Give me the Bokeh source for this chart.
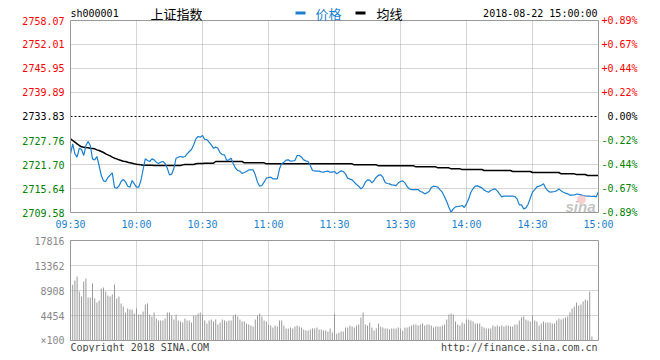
from bokeh.plotting import figure
from bokeh.models import Range1d, Range1d as R, ColumnDataSource
from bokeh.core.properties import value
from bokeh.embed import file_html
from bokeh.resources import INLINE

# ---------------- data ----------------
time_ticks = [0, 30, 60, 90, 120, 150, 180, 210, 240]
time_labels = ["09:30", "10:00", "10:30", "11:00", "11:30", "13:30", "14:00", "14:30", "15:00"]

price_ticks = [2758.07, 2752.01, 2745.95, 2739.89, 2733.83, 2727.76, 2721.70, 2715.64, 2709.58]
price_labels = ["2758.07", "2752.01", "2745.95", "2739.89", "2733.83", "2727.76", "2721.70", "2715.64", "2709.58"]
pct_labels = ["+0.89%", "+0.67%", "+0.44%", "+0.22%", "0.00%", "-0.22%", "-0.44%", "-0.67%", "-0.89%"]
prev_close = 2733.83

vol_ticks = [17816, 13362, 8908, 4454, 0]
vol_labels = ["17816", "13362", "8908", "4454", "\u00d7100"]

price = [
    2724.39, 2726.92, 2724.39, 2723.55, 2725.82, 2725.49, 2723.97, 2726.50, 2727.51, 2726.50,
    2723.13, 2722.88, 2723.72, 2721.45, 2718.92, 2717.57, 2717.40, 2718.42, 2719.00, 2719.59,
    2715.89, 2715.72, 2716.23, 2717.40, 2717.91, 2717.32, 2716.23, 2715.97, 2717.66, 2716.82,
    2715.97, 2715.97, 2717.66, 2720.44, 2723.13, 2722.71, 2722.46, 2723.13, 2722.88, 2722.29,
    2721.95, 2722.29, 2722.46, 2721.95, 2720.77, 2719.09, 2719.26, 2720.77, 2723.30, 2723.55,
    2723.72, 2723.55, 2723.72, 2724.39, 2724.98, 2725.49, 2726.67, 2728.18, 2728.77, 2728.60,
    2729.02, 2728.01, 2728.01, 2727.34, 2726.67, 2725.82, 2726.08, 2725.82, 2724.65, 2724.22,
    2724.14, 2722.71, 2722.88, 2723.30, 2721.87, 2720.77, 2720.18, 2720.02, 2719.42, 2719.68,
    2719.93, 2720.35, 2720.35, 2720.35, 2719.09, 2717.24, 2716.23, 2716.39, 2717.24, 2718.25,
    2718.42, 2718.50, 2718.08, 2718.08, 2718.08, 2720.60, 2721.87, 2722.29, 2722.79, 2722.88,
    2722.54, 2722.62, 2722.71, 2723.97, 2723.97, 2723.55, 2722.88, 2722.62, 2722.46, 2721.45,
    2720.18, 2720.10, 2720.02, 2720.02, 2719.85, 2719.76, 2719.93, 2720.02, 2719.76, 2719.76,
    2719.93, 2719.34, 2719.76, 2720.10, 2719.93, 2719.34, 2718.25, 2718.00, 2717.83, 2717.24,
    2716.65, 2716.23, 2715.55, 2716.06, 2717.24, 2717.83, 2717.74, 2717.07, 2717.66, 2718.50,
    2719.00, 2719.09, 2718.50, 2717.15, 2716.90, 2716.82, 2716.56, 2716.48, 2716.39, 2717.07,
    2717.40, 2717.57, 2717.07, 2716.14, 2715.55, 2715.38, 2715.38, 2715.38, 2715.38, 2714.88,
    2714.71, 2714.29, 2714.54, 2714.88, 2715.89, 2716.23, 2716.14, 2715.97, 2715.30, 2714.71,
    2713.53, 2712.35, 2710.92, 2709.66, 2710.50, 2711.00, 2711.09, 2711.17, 2711.34, 2710.84,
    2711.76, 2713.03, 2714.71, 2715.64, 2716.23, 2716.31, 2716.06, 2715.80, 2715.22, 2714.96,
    2714.71, 2715.13, 2715.38, 2715.55, 2715.05, 2714.29, 2713.53, 2713.70, 2713.70, 2713.70,
    2713.70, 2713.70, 2713.62, 2713.03, 2711.51, 2711.51, 2710.50, 2710.75, 2711.68, 2713.20,
    2714.71, 2715.38, 2716.06, 2716.23, 2716.48, 2716.82, 2715.72, 2715.05, 2714.71, 2714.80,
    2714.88, 2715.05, 2715.55, 2715.05, 2714.71, 2714.46, 2714.29, 2713.95, 2713.95, 2714.04,
    2714.20, 2714.20, 2714.04, 2713.87, 2713.78, 2713.70, 2713.70, 2713.62, 2713.70, 2713.53,
    2714.88,
]

avg_price = [
    2728.18, 2727.76, 2727.34, 2726.92, 2726.50, 2726.16, 2726.08, 2725.99, 2725.91, 2725.82,
    2725.74, 2725.66, 2725.40, 2725.24, 2724.98, 2724.73, 2724.39, 2724.14, 2723.89, 2723.55,
    2723.30, 2723.13, 2722.88, 2722.71, 2722.54, 2722.46, 2722.29, 2722.12, 2722.04, 2721.87,
    2721.78, 2721.70, 2721.61, 2721.53, 2721.53, 2721.53, 2721.53, 2721.53, 2721.45, 2721.45,
    2721.45, 2721.45, 2721.45, 2721.45, 2721.45, 2721.45, 2721.45, 2721.45, 2721.45, 2721.45,
    2721.45, 2721.61, 2721.70, 2721.70, 2721.70, 2721.70, 2721.70, 2721.87, 2721.95, 2721.95,
    2721.95, 2722.04, 2722.04, 2722.04, 2722.04, 2722.04, 2722.46, 2722.46, 2722.46, 2722.46,
    2722.46, 2722.46, 2722.46, 2722.46, 2722.46, 2722.46, 2722.46, 2722.46, 2722.46, 2722.12,
    2722.12, 2722.12, 2722.12, 2722.12, 2722.12, 2722.12, 2722.12, 2722.12, 2722.12, 2721.87,
    2721.87, 2721.87, 2721.87, 2721.87, 2721.87, 2721.87, 2721.87, 2721.87, 2721.87, 2721.87,
    2721.87, 2721.87, 2721.87, 2721.87, 2721.87, 2721.87, 2721.87, 2721.87, 2721.87, 2721.87,
    2721.87, 2721.87, 2721.87, 2721.87, 2721.87, 2721.87, 2721.87, 2721.87, 2721.87, 2721.87,
    2721.87, 2721.87, 2721.87, 2721.87, 2721.87, 2721.87, 2721.87, 2721.87, 2721.87, 2721.61,
    2721.61, 2721.61, 2721.61, 2721.61, 2721.61, 2721.61, 2721.61, 2721.61, 2721.61, 2721.61,
    2721.36, 2721.36, 2721.36, 2721.36, 2721.36, 2721.36, 2721.36, 2721.36, 2721.36, 2721.36,
    2721.36, 2721.36, 2721.36, 2721.36, 2721.36, 2721.36, 2721.36, 2721.11, 2721.11, 2721.11,
    2721.11, 2721.11, 2721.11, 2721.11, 2721.11, 2721.11, 2721.11, 2720.86, 2720.86, 2720.86,
    2720.86, 2720.86, 2720.86, 2720.60, 2720.60, 2720.60, 2720.60, 2720.60, 2720.44, 2720.44,
    2720.44, 2720.44, 2720.44, 2720.44, 2720.44, 2720.44, 2720.44, 2720.44, 2720.18, 2720.18,
    2720.18, 2720.18, 2720.18, 2720.18, 2720.18, 2720.18, 2720.18, 2720.18, 2720.18, 2720.18,
    2720.18, 2719.93, 2719.93, 2719.93, 2719.93, 2719.93, 2719.93, 2719.93, 2719.93, 2719.93,
    2719.68, 2719.68, 2719.68, 2719.68, 2719.68, 2719.68, 2719.68, 2719.68, 2719.68, 2719.68,
    2719.68, 2719.68, 2719.68, 2719.34, 2719.34, 2719.34, 2719.34, 2719.34, 2719.34, 2719.34,
    2719.17, 2719.17, 2719.17, 2719.17, 2719.17, 2718.92, 2718.92, 2718.92, 2718.92, 2718.92,
    2718.92,
]

volume = [
    17816, 9918, 10690, 11403, 8730, 7839, 10512, 11047, 7661, 7661,
    10156, 7483, 6770, 7127, 9265, 9443, 8730, 8018, 7839, 8196,
    9978, 7483, 7839, 6592, 6058, 4989, 5701, 5523, 5523, 4811,
    5701, 4632, 4632, 5167, 6414, 6592, 4632, 4276, 4989, 3920,
    3563, 3563, 3563, 3920, 4989, 4989, 4454, 3742, 4632, 3563,
    3385, 3207, 3920, 3563, 3563, 3207, 4454, 4454, 4811, 4989,
    4632, 3563, 3029, 3563, 3742, 3385, 3742, 2851, 3207, 3742,
    3563, 3385, 3563, 3563, 4454, 4632, 4276, 3742, 3385, 3385,
    3029, 2851, 2673, 2494, 3742, 4454, 4811, 4276, 3563, 3385,
    2851, 2673, 2316, 2673, 2494, 3563, 3563, 2673, 2138, 2138,
    2316, 2138, 2494, 2673, 2494, 2316, 1960, 1782, 1782, 1960,
    2138, 2138, 2316, 1960, 1960, 1782, 1782, 1604, 2138, 1425,
    4751, 1188, 1366, 1604, 1604, 2316, 2316, 2673, 2494, 2316,
    2673, 2851, 4098, 4989, 2851, 2673, 3207, 2316, 1782, 2138,
    3029, 2494, 2316, 2138, 2138, 1960, 2138, 2138, 2138, 2316,
    2138, 1782, 2316, 2316, 2494, 2673, 2851, 2851, 2673, 2851,
    3029, 2673, 2851, 2851, 2673, 2316, 2494, 2494, 2494, 2673,
    2851, 3742, 4632, 4811, 4632, 3385, 2851, 2673, 3207, 3029,
    3742, 3742, 3563, 3385, 3029, 3029, 3029, 2494, 2316, 2138,
    2138, 2138, 2673, 2494, 2673, 2494, 2673, 2494, 2673, 2673,
    2494, 2494, 2851, 2851, 3563, 4098, 4276, 3742, 3563, 3385,
    4454, 3563, 3385, 2673, 3029, 3385, 3207, 3207, 3207, 3029,
    3029, 3563, 3920, 3742, 3920, 4098, 4276, 4989, 5701, 6058,
    6770, 6236, 6414, 6949, 7305, 7127, 8730, 713,
]

# ---------------- styles / layout helpers ----------------
BLUE = "#1a7fcf"
RED = "#ff0000"
GREEN = "#008000"
GRID = "#aaaaaa"
FRAME = "#999999"
MONO = value("DejaVu Sans Mono")
CJK = value("Noto Sans CJK SC")
tick_colors = [RED, RED, RED, RED, "#000000", GREEN, GREEN, GREEN, GREEN]

W, H = 652, 352
YMIN, YMAX = price_ticks[-1], price_ticks[0]
VMAX = vol_ticks[0]
T0, T1 = time_ticks[0], time_ticks[-1]


def fx(px):  # canvas pixel -> minute axis (layout only)
    return (px - 70) / 2.2


def fy(py):  # canvas pixel -> price axis (layout only)
    return YMAX - (py - 20) * (YMAX - YMIN) / 192


def gy(py):  # canvas pixel -> volume axis (layout only)
    return (340 - py) * VMAX / 100


p = figure(width=W, height=H, x_range=Range1d(fx(0), fx(W)), y_range=Range1d(fy(H), fy(0)),
           x_axis_type=None, y_axis_type=None, title=None,
           min_border=0, min_border_left=0, min_border_right=0, min_border_top=0, min_border_bottom=0,
           output_backend="svg", toolbar_location=None)
p.extra_y_ranges = {"vol": Range1d(gy(H), gy(0))}
p.outline_line_color = None
p.background_fill_color = "white"
p.border_fill_color = "white"
p.grid.visible = False

inner_t = time_ticks[1:-1]
# ---- price panel grid ----
p.segment(x0=inner_t, x1=inner_t, y0=[YMIN] * len(inner_t), y1=[YMAX] * len(inner_t),
          line_color=GRID, line_dash="1 1", line_width=1)
hticks = [t for t in price_ticks[1:-1] if t != prev_close]
p.segment(x0=[T0] * len(hticks), x1=[T1] * len(hticks), y0=hticks, y1=hticks,
          line_color=GRID, line_dash="1 1", line_width=1)
p.segment(x0=[T0], x1=[T1], y0=[prev_close], y1=[prev_close],
          line_color="#000000", line_dash="2 2", line_width=1)

# ---- volume panel grid ----
p.segment(x0=inner_t, x1=inner_t, y0=[0] * len(inner_t), y1=[VMAX] * len(inner_t),
          line_color=GRID, line_dash="1 1", line_width=1, y_range_name="vol")
vt = vol_ticks[1:-1]
p.segment(x0=[T0] * len(vt), x1=[T1] * len(vt), y0=vt, y1=vt,
          line_color=GRID, line_dash="1 1", line_width=1, y_range_name="vol")

# ---- series ----
p.vbar(x=list(range(len(volume))), top=volume, bottom=0, width=0.45,
       fill_color="#999999", line_color=None, y_range_name="vol")
p.line(list(range(len(avg_price))), avg_price, line_color="#000000", line_width=1.5)
p.line(list(range(len(price))), price, line_color=BLUE, line_width=1.2)

# ---- panel frames ----
p.quad(left=[T0], right=[T1], bottom=[YMIN], top=[YMAX], fill_color=None,
       line_color=FRAME, line_width=1)
p.quad(left=[T0], right=[T1], bottom=[0], top=[VMAX], fill_color=None,
       line_color=FRAME, line_width=1, y_range_name="vol")

# ---- watermark ----
p.scatter(x=[fx(581)], y=[fy(199)], size=9, fill_color="#f2a0a0", fill_alpha=0.5, line_color=None)
p.text(x=[fx(580)], y=[fy(206)], text=["sina"], text_font=value("Liberation Sans"),
       text_font_size="15px", text_font_style="bold italic", text_color="#b8b8b8",
       text_alpha=0.85, text_align="center", text_baseline="middle")

# ---- axis labels ----
n = len(price_ticks)
p.text(x=[fx(64)] * n, y=price_ticks, text=price_labels, text_color=tick_colors,
       text_align="right", text_baseline="middle", text_font=MONO, text_font_size="10px")
p.text(x=[fx(637)] * n, y=price_ticks, text=pct_labels, text_color=tick_colors,
       text_align="right", text_baseline="middle", text_font=MONO, text_font_size="10px")
p.text(x=time_ticks, y=[fy(224)] * len(time_ticks), text=time_labels, text_color=BLUE,
       text_align="center", text_baseline="middle", text_font=MONO, text_font_size="10px")
p.text(x=[fx(64)] * len(vol_ticks), y=vol_ticks, text=vol_labels, text_color="#888888",
       text_align="right", text_baseline="middle", text_font=MONO, text_font_size="10px",
       y_range_name="vol")

# ---- header ----
p.text(x=[fx(70)], y=[fy(13)], text=["sh000001"], text_color="#000000",
       text_baseline="middle", text_font=MONO, text_font_size="10px")
p.text(x=[fx(150), fx(376)], y=[fy(12.5)] * 2, text=["上证指数", "均线"], text_color="#000000",
       text_baseline="middle", text_font=CJK, text_font_size="13px")
p.text(x=[fx(315)], y=[fy(12.5)], text=["价格"], text_color=BLUE,
       text_baseline="middle", text_font=CJK, text_font_size="13px")
p.quad(left=[fx(295), fx(355)], right=[fx(305), fx(365)], top=[fy(11)] * 2, bottom=[fy(14)] * 2,
       fill_color=[BLUE, "#000000"], line_color=None)
p.text(x=[fx(597)], y=[fy(13)], text=["2018-08-22 15:00:00"], text_color="#000000",
       text_align="right", text_baseline="middle", text_font=MONO, text_font_size="10px")

# ---- footer ----
p.text(x=[fx(70)], y=[gy(347)], text=["Copyright 2018 SINA.COM"], text_color="#444444",
       text_baseline="middle", text_font=MONO, text_font_size="10px", y_range_name="vol")
p.text(x=[fx(597)], y=[gy(347)], text=["http://finance.sina.com.cn"], text_color="#444444",
       text_align="right", text_baseline="middle", text_font=MONO, text_font_size="10px",
       y_range_name="vol")

open("out.html", "w").write(file_html(p, INLINE))
